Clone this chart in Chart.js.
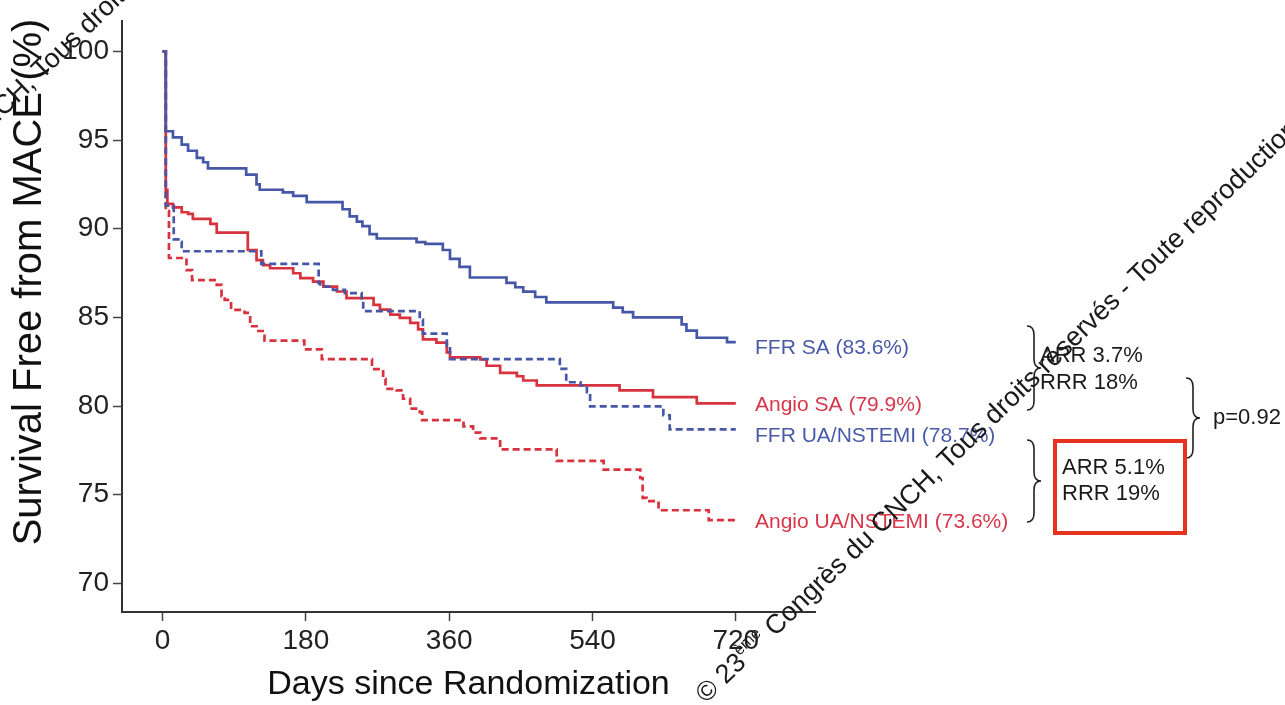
<!DOCTYPE html>
<html><head><meta charset="utf-8">
<script src="https://cdn.jsdelivr.net/npm/chart.js@4/dist/chart.umd.min.js"></script>
<style>html,body{margin:0;padding:0;background:#fff;overflow:hidden}canvas{display:block}</style>
</head><body>
<canvas id="c" width="1285" height="705"></canvas>
<script>
// ---- data ----
const xTicks = [0, 180, 360, 540, 720];
const yTicks = [70, 75, 80, 85, 90, 95, 100];
const xTitle = 'Days since Randomization';
const yTitle = 'Survival Free from MACE (%)';

const seriesNames = ['FFR SA', 'Angio SA', 'FFR UA/NSTEMI', 'Angio UA/NSTEMI'];
const endPct = ['83.6%', '79.9%', '78.7%', '73.6%'];

const ffrSA_days = [0,4,13,24,32,43,51,57,105,118,122,151,164,181,226,235,244,251,260,269,319,330,352,361,373,386,432,443,453,468,482,566,578,591,652,658,671,709,720];
const ffrSA_surv = [100,95.5,95.15,94.75,94.4,94.0,93.75,93.4,93.05,92.5,92.2,92.05,91.85,91.5,91.1,90.7,90.4,90.15,89.7,89.45,89.25,89.15,88.8,88.3,87.85,87.25,86.95,86.7,86.45,86.15,85.85,85.55,85.3,85.0,84.6,84.25,83.85,83.6,83.6];

const angioSA_days = [0,4,6,13,24,32,38,60,68,107,118,126,135,164,173,189,202,219,231,265,273,286,298,311,321,327,344,357,361,399,407,424,445,453,470,574,616,671,720];
const angioSA_surv = [100,92.2,91.4,91.2,90.93,90.84,90.56,90.28,89.78,88.8,88.23,87.95,87.77,87.49,87.21,87.02,86.74,86.46,86.09,85.71,85.44,85.16,84.97,84.69,84.32,83.76,83.58,83.02,82.74,82.63,82.27,81.87,81.68,81.44,81.16,80.88,80.5,80.15,80.15];

const ffrUA_days = [0,4,14,22,24,124,196,198,214,229,250,252,323,327,357,361,499,507,525,533,537,629,637,720];
const ffrUA_surv = [100,91.3,89.4,89.26,88.73,88.02,86.93,86.74,86.55,86.37,85.95,85.35,84.88,84.08,83.39,82.64,82.1,81.34,81.16,80.78,79.98,79.48,78.68,78.68];

const angioUA_days = [0,4,8,30,37,68,74,78,86,103,110,118,128,178,200,263,277,280,294,302,311,323,326,378,390,399,424,495,554,600,603,608,623,686,720];
const angioUA_surv = [100,91.0,88.35,87.67,87.1,86.83,86.18,85.99,85.42,85.25,84.5,84.23,83.69,83.2,82.64,82.08,81.53,80.97,80.88,80.41,79.85,79.66,79.2,78.85,78.5,78.17,77.55,76.91,76.41,75.94,74.82,74.64,74.12,73.56,73.56];

const comparisonTop = ['ARR 3.7%', 'RRR 18%'];
const comparisonBottom = ['ARR 5.1%', 'RRR 19%'];
const pValueText = 'p=0.92';
const watermark = ['\u00A9 23', '\u00E8me', ' Congr\u00E8s du CNCH, Tous droits r\u00E9serv\u00E9s - Toute reproduction'];

// ---- styles ----
const FONT = '"Liberation Sans", Arial, Helvetica, sans-serif';
const BLUE = '#4757a8';
const RED = '#d8323e';
const BLUE_TXT = '#4a5aa8';
const RED_TXT = '#d7374a';

const pts = (d, s) => d.map((v, i) => ({ x: v, y: s[i] }));

const datasets = [
  { label: seriesNames[2], data: pts(ffrUA_days, ffrUA_surv), borderColor: BLUE, borderDash: [7, 4] },
  { label: seriesNames[3], data: pts(angioUA_days, angioUA_surv), borderColor: RED, borderDash: [7, 4] },
  { label: seriesNames[0], data: pts(ffrSA_days, ffrSA_surv), borderColor: BLUE },
  { label: seriesNames[1], data: pts(angioSA_days, angioSA_surv), borderColor: RED }
].map(d => Object.assign({ stepped: true, borderWidth: 2.7, pointRadius: 0, fill: false, tension: 0 }, d));

function brace(ctx, x, y1, y2, w) {
  const ym = (y1 + y2) / 2, r = 9, xm = x + w * 0.5;
  ctx.beginPath();
  ctx.moveTo(x, y1);
  ctx.quadraticCurveTo(xm, y1, xm, y1 + r);
  ctx.lineTo(xm, ym - r);
  ctx.quadraticCurveTo(xm, ym, x + w, ym);
  ctx.quadraticCurveTo(xm, ym, xm, ym + r);
  ctx.lineTo(xm, y2 - r);
  ctx.quadraticCurveTo(xm, y2, x, y2);
  ctx.stroke();
}

function drawWatermark(ctx, ax, ay, angle, size, shiftAnchor) {
  ctx.save();
  ctx.translate(ax, ay);
  ctx.rotate(angle);
  ctx.fillStyle = '#1a1a1a';
  ctx.textBaseline = 'alphabetic';
  ctx.textAlign = 'left';
  const big = size + 'px ' + FONT, small = Math.round(size * 0.6) + 'px ' + FONT;
  let x = 0;
  if (shiftAnchor) {
    ctx.font = big; let w = ctx.measureText(watermark[0]).width;
    ctx.font = small; w += ctx.measureText(watermark[1]).width;
    ctx.font = big; w += ctx.measureText(watermark[2].slice(0, watermark[2].indexOf(shiftAnchor))).width;
    x = -w;
  }
  ctx.font = big; ctx.fillText(watermark[0], x, 0); x += ctx.measureText(watermark[0]).width;
  ctx.font = small; ctx.fillText(watermark[1], x, -size * 0.42); x += ctx.measureText(watermark[1]).width;
  ctx.font = big; ctx.fillText(watermark[2], x, 0);
  ctx.restore();
}

const annot = {
  id: 'annot',
  afterDraw(chart) {
    const ctx = chart.ctx;
    ctx.save();
    // y axis title
    ctx.save();
    ctx.translate(30, 282);
    ctx.rotate(-Math.PI / 2);
    ctx.font = '40px ' + FONT;
    ctx.fillStyle = '#111';
    ctx.textAlign = 'center';
    ctx.textBaseline = 'middle';
    ctx.fillText(yTitle, 0, 0);
    ctx.restore();

    // end labels
    ctx.font = '21px ' + FONT;
    ctx.textBaseline = 'middle';
    ctx.textAlign = 'left';
    const labY = [348, 405, 436, 522];
    const labC = [BLUE_TXT, RED_TXT, BLUE_TXT, RED_TXT];
    for (let i = 0; i < 4; i++) {
      ctx.fillStyle = labC[i];
      ctx.fillText(seriesNames[i] + ' (' + endPct[i] + ')', 755, labY[i]);
    }
    // braces
    ctx.strokeStyle = '#222';
    ctx.lineWidth = 1.6;
    brace(ctx, 1027, 326, 410, 14);
    brace(ctx, 1027, 440, 522, 14);
    brace(ctx, 1186, 378, 458, 14);
    // comparison texts
    ctx.fillStyle = '#1a1a1a';
    ctx.font = '22px ' + FONT;
    ctx.fillText(comparisonTop[0], 1040, 356);
    ctx.fillText(comparisonTop[1], 1040, 383);
    ctx.fillText(comparisonBottom[0], 1062, 468);
    ctx.fillText(comparisonBottom[1], 1062, 494);
    ctx.fillText(pValueText, 1213, 418);
    // red highlight box
    ctx.strokeStyle = '#e5331f';
    ctx.lineWidth = 4;
    ctx.strokeRect(1055, 441, 130, 92);
    // watermark
    drawWatermark(ctx, 706, 704, -44 * Math.PI / 180, 27, null);
    drawWatermark(ctx, 42, 80, -44 * Math.PI / 180, 27, 'Tous');
    ctx.restore();
  }
};

new Chart(document.getElementById('c'), {
  type: 'line',
  data: { datasets },
  options: {
    responsive: false,
    animation: false,
    devicePixelRatio: 1,
    layout: { padding: { left: 0, right: 470, top: 15, bottom: 0 } },
    plugins: { legend: { display: false }, tooltip: { enabled: false } },
    scales: {
      x: {
        type: 'linear', min: -51, max: 819.5,
        afterBuildTicks: s => { s.ticks = xTicks.map(v => ({ value: v })); },
        afterFit: s => { s.height = 93; },
        grid: { display: true, drawOnChartArea: false, drawTicks: true, tickLength: 9, tickColor: '#444', tickWidth: 1.5 },
        border: { display: true, color: '#333', width: 2 },
        ticks: { color: '#222', font: { size: 28, family: FONT }, padding: 3, maxRotation: 0, autoSkip: false },
        title: { display: true, text: xTitle, color: '#111', font: { size: 34, family: FONT }, padding: { top: 0, bottom: 0 } }
      },
      y: {
        type: 'linear', min: 68.38, max: 101.73,
        afterBuildTicks: s => { s.ticks = yTicks.map(v => ({ value: v })); },
        afterFit: s => { s.width = 122; },
        grid: { display: true, drawOnChartArea: false, drawTicks: true, tickLength: 9, tickColor: '#444', tickWidth: 1.5 },
        border: { display: true, color: '#333', width: 2 },
        ticks: { color: '#222', font: { size: 28, family: FONT }, padding: 4, autoSkip: false }
      }
    }
  },
  plugins: [annot]
});
</script>
</body></html>
